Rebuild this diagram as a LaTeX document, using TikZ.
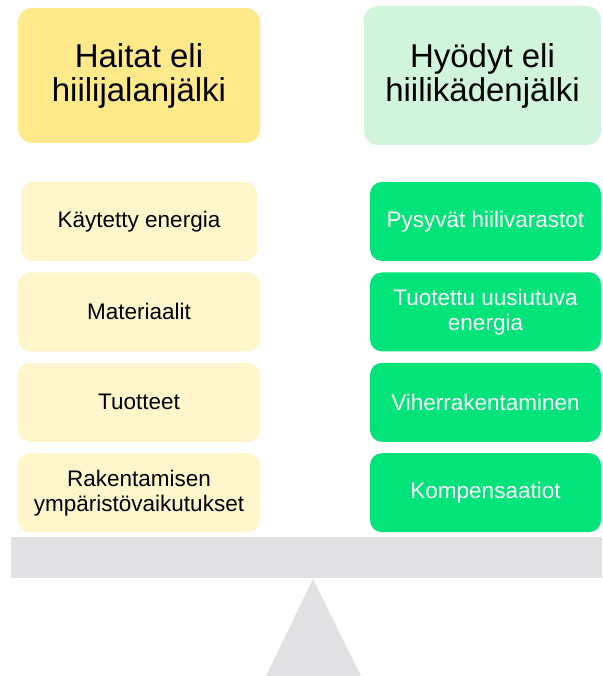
\documentclass[tikz,border=0pt]{standalone}
\usepackage{fontspec}
\setmainfont{Liberation Sans}
\usepackage{xcolor}
\usepackage{tikz}
\usetikzlibrary{positioning}

\definecolor{haittakeltainen}{RGB}{255,233,138}
\definecolor{haittavaalea}{RGB}{255,246,204}
\definecolor{hyotyvaalea}{RGB}{209,244,220}
\definecolor{hyotyvihrea}{RGB}{2,227,122}
\definecolor{vaakaharmaa}{RGB}{225,225,227}

\begin{document}
\begin{tikzpicture}[x=1pt, y=1pt,
  otsikko/.style={rounded corners=14pt, align=center, inner sep=0pt,
    font=\fontsize{33}{34}\selectfont},
  laatikko/.style={rounded corners=12pt, align=center, inner sep=0pt,
    minimum height=79pt, font=\fontsize{22.5}{25}\selectfont}]

\useasboundingbox (0,0) rectangle (602,676);

% Headers of the two sides
\node[otsikko, fill=haittakeltainen, minimum width=242pt, minimum height=135pt] (haitat) at (139,600.5) {Haitat eli\\hiilijalanjälki};
\node[otsikko, fill=hyotyvaalea, minimum width=237pt, minimum height=139pt] (hyodyt) at (482.5,600.5) {Hyödyt eli\\hiilikädenjälki};

% Left column: the footprint
\node[laatikko, fill=haittavaalea, minimum width=236pt] (haitta1) at (139,454.5) {Käytetty energia};
\node[laatikko, fill=haittavaalea, minimum width=242pt, below=11pt of haitta1] (haitta2) {Materiaalit};
\node[laatikko, fill=haittavaalea, minimum width=242pt, below=11pt of haitta2] (haitta3) {Tuotteet};
\node[laatikko, fill=haittavaalea, minimum width=242pt, below=11pt of haitta3] (haitta4) {Rakentamisen\\ympäristövaikutukset};

% Right column: the handprint
\node[laatikko, fill=hyotyvihrea, text=white, minimum width=231pt] (hyoty1) at (485.5,454.5) {Pysyvät hiilivarastot};
\node[laatikko, fill=hyotyvihrea, text=white, minimum width=231pt, below=11pt of hyoty1] (hyoty2) {Tuotettu uusiutuva\\energia};
\node[laatikko, fill=hyotyvihrea, text=white, minimum width=231pt, below=11pt of hyoty2] (hyoty3) {Viherrakentaminen};
\node[laatikko, fill=hyotyvihrea, text=white, minimum width=231pt, below=11pt of hyoty3] (hyoty4) {Kompensaatiot};

% The balance: beam and pivot
\fill[vaakaharmaa] (11,98) rectangle (602,139);
\fill[vaakaharmaa] (313,97) -- (361,0) -- (266,0) -- cycle;

\end{tikzpicture}
\end{document}
